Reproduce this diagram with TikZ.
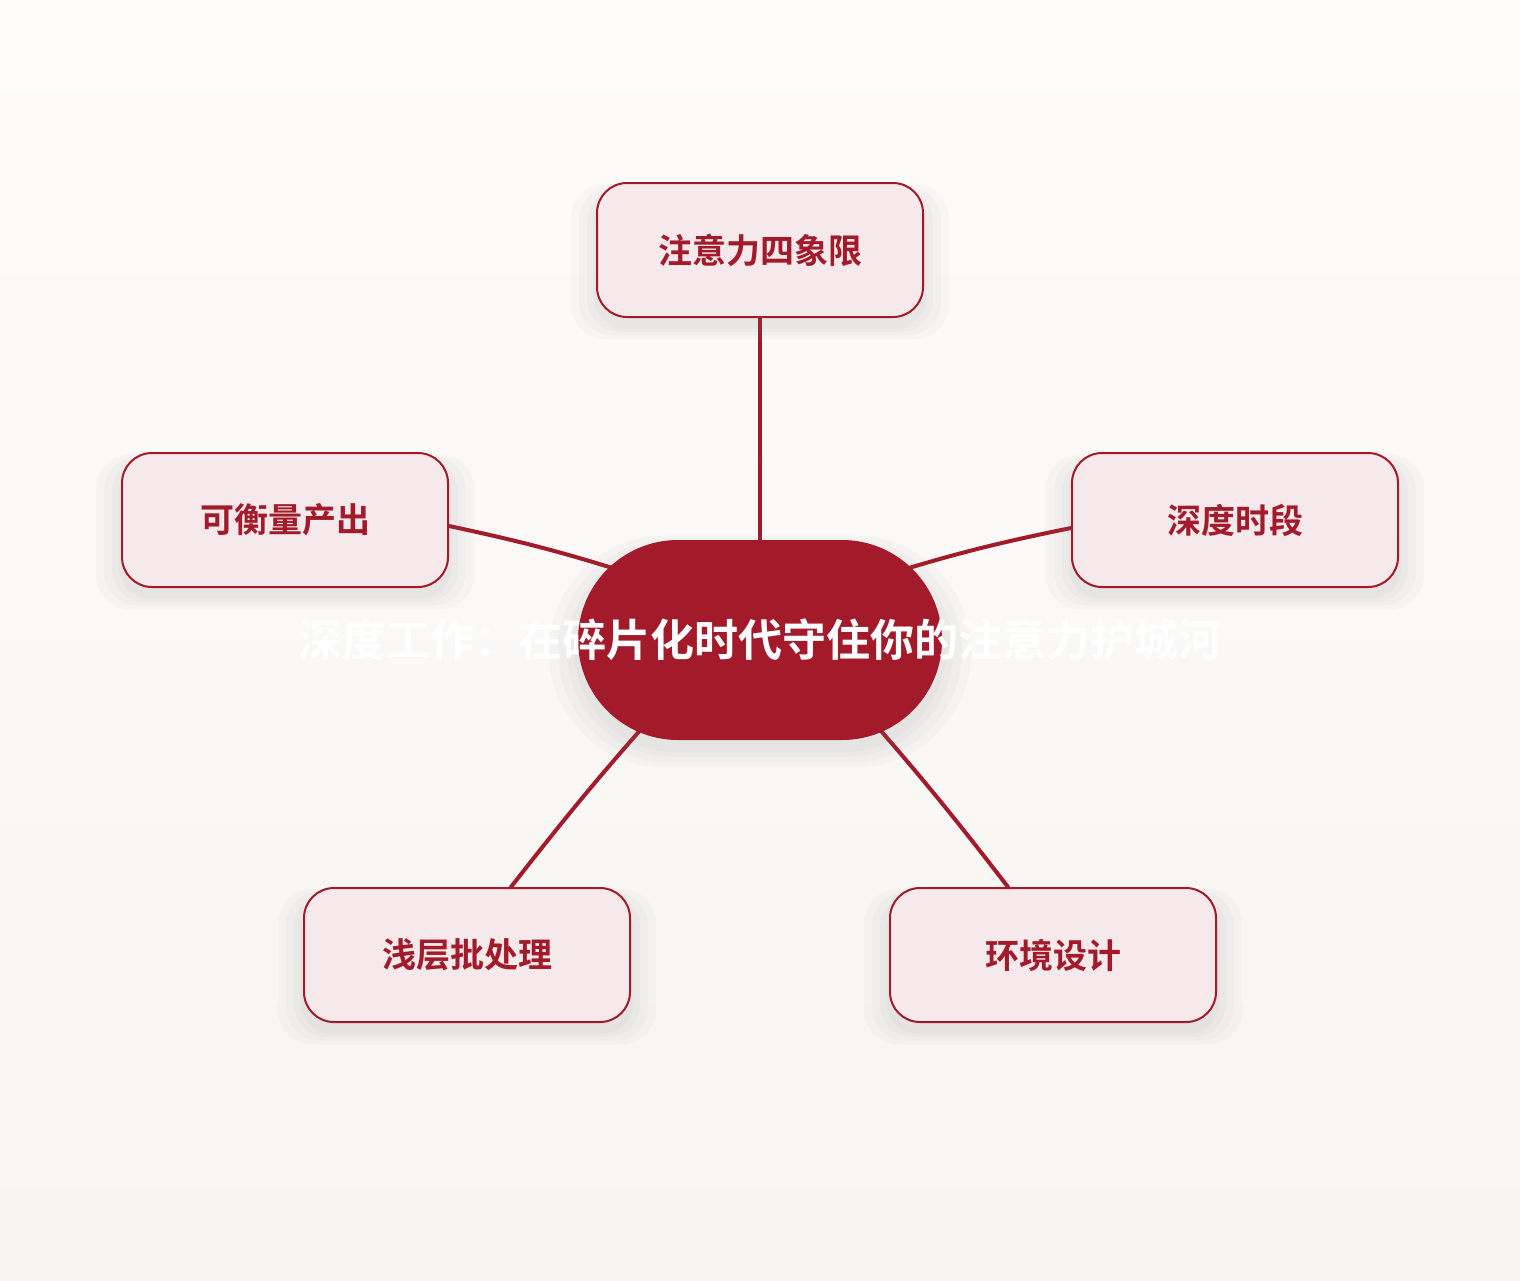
\documentclass[tikz,border=0pt]{standalone}
\usepackage{fontspec}
\setmainfont{Noto Sans CJK SC}[BoldFont={Noto Sans CJK SC Bold}]
\usepackage{xcolor}
\usetikzlibrary{calc,shapes,positioning,shadows,backgrounds}

\definecolor{deepred}{HTML}{A31B2B}
\definecolor{petal}{HTML}{F5E9EC}
\definecolor{paper}{HTML}{FDFCFB}
\definecolor{paperlow}{HTML}{F7F5F1}

\tikzset{
    soft shadow/.style={
        drop shadow={opacity=0.035, shadow xshift=0pt, shadow yshift=-5pt, shadow scale=1.16},
        drop shadow={opacity=0.035, shadow xshift=0pt, shadow yshift=-5pt, shadow scale=1.11},
        drop shadow={opacity=0.04, shadow xshift=0pt, shadow yshift=-5pt, shadow scale=1.06},
        drop shadow={opacity=0.04, shadow xshift=0pt, shadow yshift=-5pt, shadow scale=1.02}},
    hub/.style={fill=deepred, rounded corners=50pt, minimum width=182pt, minimum height=100pt,
        inner sep=0pt, text=white, font=\bfseries\fontsize{22pt}{26pt}\selectfont, soft shadow},
    branch/.style={draw=deepred, line width=1pt, fill=petal, rounded corners=15pt,
        minimum width=163pt, minimum height=67pt, text=deepred,
        font=\bfseries\fontsize{17pt}{20pt}\selectfont, soft shadow},
    link/.style={draw=deepred, line width=2pt, line cap=round}
}

\begin{document}
\begin{tikzpicture}[x=0.5pt, y=-0.5pt]
        \useasboundingbox (0,0) rectangle (1520,1280);

        \node[hub] (deep) at (760,640) {\makebox[0pt]{深度工作：在碎片化时代守住你的注意力护城河}};

        \node[branch] (quad) at (760,250) {注意力四象限};
        \node[branch] (output) at (285,520) {可衡量产出};
        \node[branch] (slots) at (1235,520) {深度时段};
        \node[branch] (batch) at (467,955) {浅层批处理};
        \node[branch] (space) at (1053,955) {环境设计};

        % links run under the nodes, into the hub
        \begin{scope}[on background layer]
            \shade[top color=paper, bottom color=paperlow] (0,0) rectangle (1520,1280);
            \draw[link] (quad) -- (deep);
            \draw[link] ($(output.east)+(0,6)$) to[bend left=3] ($(deep.center)+(-110,-60)$);
            \draw[link] ($(slots.west)+(0,8)$) to[bend right=3] ($(deep.center)+(110,-60)$);
            \draw[link] ($(batch.north)+(44,0)$) to[bend left=2] ($(deep.center)+(-84,50)$);
            \draw[link] ($(space.north)+(-45,0)$) to[bend right=2] ($(deep.center)+(85,50)$);
        \end{scope}
    \end{tikzpicture}
\end{document}
